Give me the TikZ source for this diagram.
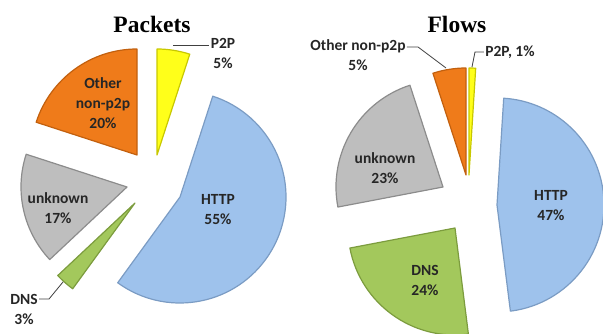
\documentclass[tikz,border=0pt]{standalone}
\usepackage{fontspec}
\setmainfont{Liberation Serif}
\newfontfamily\lblfont{Carlito}
\usepackage{tikz}
\usetikzlibrary{positioning}

\definecolor{httpfill}{HTML}{9EC2EC}
\definecolor{httpedge}{HTML}{7B9CC4}
\definecolor{dnsfill}{HTML}{A3C85C}
\definecolor{dnsedge}{HTML}{7C9C3E}
\definecolor{unkfill}{HTML}{BEBEBE}
\definecolor{unkedge}{HTML}{8C8C8C}
\definecolor{othfill}{HTML}{EF7B1A}
\definecolor{othedge}{HTML}{C2600E}
\definecolor{ptpfill}{HTML}{FFFF1A}
\definecolor{ptpedge}{HTML}{C8C800}
\definecolor{txtgray}{HTML}{262626}
\definecolor{leadgray}{HTML}{404040}

\tikzset{every picture/.style={line width=0.75pt},
  slice/.style={line width=1.2pt, line join=round},
  httpslice/.style={slice, fill=httpfill, draw=httpedge},
  dnsslice/.style={slice, fill=dnsfill, draw=dnsedge},
  unkslice/.style={slice, fill=unkfill, draw=unkedge},
  othslice/.style={slice, fill=othfill, draw=othedge},
  ptpslice/.style={slice, fill=ptpfill, draw=ptpedge},
  lbl/.style={font=\lblfont\bfseries\fontsize{15.5}{20}\selectfont, text=txtgray, align=center, inner sep=1pt},
  ttl/.style={font=\bfseries\fontsize{23.5}{26}\selectfont, text=black},
  leader/.style={draw=leadgray, line width=0.8pt}}

\begin{document}
\begin{tikzpicture}[x=1pt,y=1pt,yscale=-1,xscale=1]
		\useasboundingbox (0,0) rectangle (603,334);
		
		%%%%%%%% Packets %%%%%%%%
		%Shape: Slice P2P
		\coordinate (pkPtp) at (157,155);
		\draw[ptpslice] (pkPtp) -- ++(-72:106) arc[start angle=-72, end angle=-90, radius=106] -- cycle;
		%Shape: Slice HTTP
		\coordinate (pkHttp) at (180,197);
		\draw[httpslice] (pkHttp) -- ++(126:106) arc[start angle=126, end angle=-72, radius=106] -- cycle;
		%Shape: Slice DNS
		\coordinate (pkDns) at (135,203);
		\draw[dnsslice] (pkDns) -- ++(136.8:106) arc[start angle=136.8, end angle=126, radius=106] -- cycle;
		%Shape: Slice unknown
		\coordinate (pkUnk) at (127,187);
		\draw[unkslice] (pkUnk) -- ++(-162:106) arc[start angle=-162, end angle=-223.2, radius=106] -- cycle;
		%Shape: Slice Other
		\coordinate (pkOth) at (137,155);
		\draw[othslice] (pkOth) -- ++(-90:106) arc[start angle=-90, end angle=-162, radius=106] -- cycle;
		
		% Text Node
		\node[ttl] (pkTitle) at (152,24) {Packets};
		% Text Node
		\node[lbl] (pkPtpLbl) at (223,53) {P2P\\5\%};
		% Text Node
		\node[lbl] (pkOthLbl) at (103,103) {Other\\non-p2p\\20\%};
		% Text Node
		\node[lbl] (pkUnkLbl) at (58,208) {unknown\\17\%};
		% Text Node
		\node[lbl] (pkHttpLbl) at (218,210) {HTTP\\55\%};
		% Text Node
		\node[lbl] (pkDnsLbl) at (24,309) {DNS\\3\%};
		
		%Straight Lines: leaders
		\coordinate (pkPtpA) at (173,45);
		\draw[leader] (pkPtpA) -- (pkPtpA -| pkPtpLbl.west);
		\coordinate (pkDnsA) at (63,282);
		\coordinate (pkDnsB) at (49,299);
		\draw[leader] (pkDnsA) -- (pkDnsB) -- (pkDnsB -| pkDnsLbl.east);
		
		%%%%%%%% Flows %%%%%%%%
		%Shape: Slice P2P
		\coordinate (flPtp) at (469,175);
		\draw[ptpslice] (flPtp) -- ++(-86.4:107) arc[start angle=-86.4, end angle=-90, radius=107] -- cycle;
		%Shape: Slice HTTP
		\coordinate (flHttp) at (497,205);
		\draw[httpslice] (flHttp) -- ++(82.8:107) arc[start angle=82.8, end angle=-86.4, radius=107] -- cycle;
		%Shape: Slice DNS
		\coordinate (flDns) at (455,228);
		\draw[dnsslice] (flDns) -- ++(169.2:107) arc[start angle=169.2, end angle=82.8, radius=107] -- cycle;
		%Shape: Slice unknown
		\coordinate (flUnk) at (443,187);
		\draw[unkslice] (flUnk) -- ++(-108:107) arc[start angle=-108, end angle=-190.8, radius=107] -- cycle;
		%Shape: Slice Other
		\coordinate (flOth) at (466,175);
		\draw[othslice] (flOth) -- ++(-90:107) arc[start angle=-90, end angle=-108, radius=107] -- cycle;
		
		% Text Node
		\node[ttl] (flTitle) at (457,24) {Flows};
		% Text Node
		\node[lbl] (flOthLbl) at (358,55) {Other non-p2p\\5\%};
		% Text Node
		\node[lbl] (flPtpLbl) at (510,52) {P2P, 1\%};
		% Text Node
		\node[lbl] (flUnkLbl) at (385,168) {unknown\\23\%};
		% Text Node
		\node[lbl] (flHttpLbl) at (551,206) {HTTP\\47\%};
		% Text Node
		\node[lbl] (flDnsLbl) at (425,280) {DNS\\24\%};
		
		%Straight Lines: leaders
		\coordinate (flOthA) at (446,68);
		\coordinate (flOthB) at (418,47);
		\draw[leader] (flOthA) -- (flOthB) -- (flOthB -| flOthLbl.east);
		\coordinate (flPtpA) at (472,67);
		\coordinate (flPtpB) at (475,52);
		\draw[leader] (flPtpA) -- (flPtpB) -- (flPtpB -| flPtpLbl.west);
		
\end{tikzpicture}
\end{document}
